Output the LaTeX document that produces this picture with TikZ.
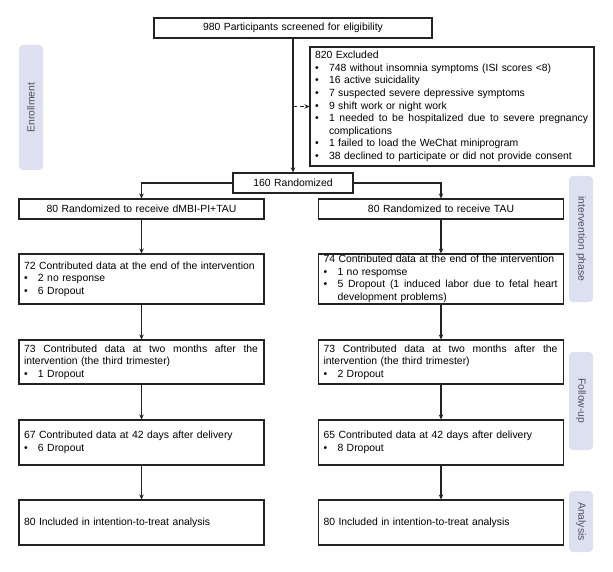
\documentclass[tikz,border=0pt]{standalone}
\usepackage{fontspec}
\setmainfont{Liberation Sans}
\usetikzlibrary{arrows.meta}
\definecolor{phasefill}{RGB}{221,224,241}
\definecolor{phasetext}{RGB}{80,80,88}
\definecolor{boxline}{RGB}{35,35,35}
\newcommand\fs{\fontsize{10.4}{12.6}\selectfont}
\newlength\bind
\setlength\bind{14pt}
\newcommand\bitem[1]{\par\noindent\makebox[\bind][l]{\textbullet}#1}
\newcommand\bcont[1]{\par\noindent\makebox[\bind][l]{}#1}
\newcommand\spreadto[2]{\hbox to #1{\spaceskip=0pt\xspaceskip=0pt #2}}
\tikzset{
  box/.style={draw=boxline, line width=1.1pt, inner xsep=5pt, inner ysep=0pt, font=\fs, align=left, anchor=center},
  cbox/.style={box, align=center},
  lbox/.style={box, text width=235pt, minimum height=#1},
  phase/.style={fill=phasefill, rounded corners=4pt, minimum height=24pt, inner sep=0pt, font=\fs, text=phasetext},
  arr/.style={draw=boxline, line width=1.1pt, -{Stealth[length=5pt,width=4.5pt]}},
}
\begin{document}
\begin{tikzpicture}[x=1pt,y=-1pt]
\useasboundingbox (0,0) rectangle (613,572);

% phase labels
\node[phase, rotate=90, minimum width=125pt] (ph1) at (31,107.5) {Enrollment};
\node[phase, rotate=-90, minimum width=126pt] (ph2) at (581,239) {intervention phase};
\node[phase, rotate=-90, minimum width=98pt] (ph3) at (581,401) {Follow-up};
\node[phase, rotate=-90, minimum width=61pt] (ph4) at (581,521.5) {Analysis};

% enrollment
\node[cbox, text width=268pt, minimum height=20pt] (top) at (293,28) {980 Participants screened for eligibility};
\node[box, text width=274pt, minimum height=119pt] (excl) at (452,106.5) {\noindent 820 Excluded
\bitem{748 without insomnia symptoms (ISI scores <8)}
\bitem{16 active suicidality}
\bitem{7 suspected severe depressive symptoms}
\bitem{9 shift work or night work}
\bitem{\spreadto{259pt}{1 needed to be hospitalized due to severe pregnancy}}
\bcont{complications}
\bitem{1 failed to load the WeChat miniprogram}
\bitem{38 declined to participate or did not provide consent}};
\node[cbox, text width=110pt, minimum height=20pt] (rand) at (293,183) {160 Randomized};

% left arm
\node[lbox=20pt, align=center] (L1) at (141.5,209) {80 Randomized to receive dMBI-PI+TAU};
\node[lbox=50pt] (L2) at (141.5,279) {\noindent 72 Contributed data at the end of the intervention
\bitem{2 no response}
\bitem{6 Dropout}};
\node[lbox=44pt] (L3) at (141.5,362) {\noindent\spreadto{234pt}{73 Contributed data at two months after the}
\par\noindent intervention (the third trimester)
\bitem{1 Dropout}};
\node[lbox=45pt] (L4) at (141.5,442.5) {\noindent 67 Contributed data at 42 days after delivery
\bitem{6 Dropout}};
\node[lbox=45pt] (L5) at (141.5,522.5) {\noindent 80 Included in intention-to-treat analysis};

% right arm
\node[lbox=20pt, align=center] (R1) at (441,209) {80 Randomized to receive TAU};
\node[lbox=50pt] (R2) at (441,279) {\noindent 74 Contributed data at the end of the intervention
\bitem{1 no respomse}
\bitem{\spreadto{220pt}{5 Dropout (1 induced labor due to fetal heart}}
\bcont{development problems)}};
\node[lbox=44pt] (R3) at (441,362) {\noindent\spreadto{234pt}{73 Contributed data at two months after the}
\par\noindent intervention (the third trimester)
\bitem{2 Dropout}};
\node[lbox=45pt] (R4) at (441,442.5) {\noindent 65 Contributed data at 42 days after delivery
\bitem{8 Dropout}};
\node[lbox=45pt] (R5) at (441,522.5) {\noindent 80 Included in intention-to-treat analysis};

% connectors
\draw[arr] (top.south) -- (rand.north);
\draw[arr, dash pattern=on 4pt off 3pt] (top.south |- excl.west) -- (excl.west);
\draw[arr] (rand.west) -| (L1.north);
\draw[arr] (rand.east) -| (R1.north);
\draw[arr] (L1.south) -- (L2.north);
\draw[arr] (L2.south) -- (L3.north);
\draw[arr] (L3.south) -- (L4.north);
\draw[arr] (L4.south) -- (L5.north);
\draw[arr] (R1.south) -- (R2.north);
\draw[arr] (R2.south) -- (R3.north);
\draw[arr] (R3.south) -- (R4.north);
\draw[arr] (R4.south) -- (R5.north);
\end{tikzpicture}
\end{document}
